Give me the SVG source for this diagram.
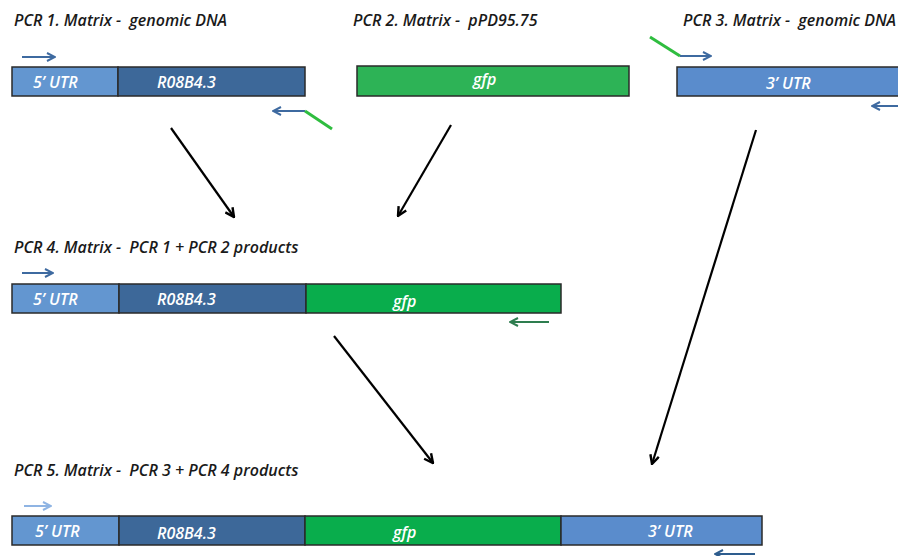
<svg xmlns="http://www.w3.org/2000/svg" width="898" height="556" viewBox="0 0 898 556">
<defs>
<style>
.title{font-family:"Open Sans","Liberation Sans",sans-serif;font-style:italic;font-weight:600;font-size:16px;fill:#1a1a1a;white-space:pre}
.lbl{font-family:"Open Sans","Liberation Sans",sans-serif;font-style:italic;font-weight:600;font-size:16px;fill:#ffffff}
.bar{stroke:#2a2a2a;stroke-width:1.5}
.utr5{fill:#6396d0}
.gene{fill:#3d6899}
.gfp1{fill:#2db356}
.gfp{fill:#09ad4c}
.utr3{fill:#5a8ccc}
.conn{stroke:#000;stroke-width:2.2;fill:none}
.pb{stroke:#3e6aa0;stroke-width:2;fill:none}
.pg{stroke:#2fbd3f;stroke-width:3;fill:none}
</style>
<marker id="ah" viewBox="0 0 10 10" refX="9" refY="5" markerWidth="5" markerHeight="5" orient="auto" markerUnits="strokeWidth">
<path d="M1,1 L9,5 L1,9" fill="none" stroke="#000" stroke-width="2.2"/>
</marker>
<marker id="pab" viewBox="0 0 10 10" refX="9" refY="5" markerWidth="5" markerHeight="5" orient="auto" markerUnits="strokeWidth">
<path d="M1,1 L9,5 L1,9" fill="none" stroke="#3e6aa0" stroke-width="2"/>
</marker>
<marker id="pad" viewBox="0 0 10 10" refX="9" refY="5" markerWidth="5" markerHeight="5" orient="auto" markerUnits="strokeWidth">
<path d="M1,1 L9,5 L1,9" fill="none" stroke="#2e5d8e" stroke-width="2"/>
</marker>
<marker id="pal" viewBox="0 0 10 10" refX="9" refY="5" markerWidth="5" markerHeight="5" orient="auto" markerUnits="strokeWidth">
<path d="M1,1 L9,5 L1,9" fill="none" stroke="#8fb4e3" stroke-width="2"/>
</marker>
<marker id="pag" viewBox="0 0 10 10" refX="9" refY="5" markerWidth="5" markerHeight="5" orient="auto" markerUnits="strokeWidth">
<path d="M1,1 L9,5 L1,9" fill="none" stroke="#2e7d4f" stroke-width="2"/>
</marker>
</defs>
<rect width="898" height="556" fill="#ffffff"/>

<g id="pcr1">
<text class="title" x="14" y="26" xml:space="preserve">PCR 1. Matrix -  genomic DNA</text>
<rect class="bar utr5" x="12" y="67" width="106" height="29"/>
<rect class="bar gene" x="118" y="67" width="187" height="29"/>
<text class="lbl" x="33" y="88">5’ UTR</text>
<text class="lbl" x="157" y="88">R08B4.3</text>
<line class="pb" x1="22" y1="57" x2="55" y2="57" marker-end="url(#pab)"/>
<line class="pb" x1="305" y1="111" x2="273" y2="111" marker-end="url(#pab)"/>
<line class="pg" x1="305" y1="111" x2="332" y2="129"/>
</g>

<g id="pcr2">
<text class="title" x="353" y="26" xml:space="preserve">PCR 2. Matrix -  pPD95.75</text>
<rect class="bar gfp1" x="357" y="66" width="272" height="30"/>
<text class="lbl" x="473" y="85">gfp</text>
</g>

<g id="pcr3">
<text class="title" x="683" y="26" xml:space="preserve">PCR 3. Matrix -  genomic DNA</text>
<rect class="bar utr3" x="677" y="67" width="225" height="29"/>
<text class="lbl" x="766" y="89">3’ UTR</text>
<line class="pg" x1="650" y1="37" x2="680" y2="56"/>
<line class="pb" x1="680" y1="56" x2="711" y2="56" marker-end="url(#pab)"/>
<line class="pb" x1="900" y1="106" x2="872" y2="106" marker-end="url(#pab)"/>
</g>

<g id="pcr4">
<text class="title" x="14" y="253" xml:space="preserve">PCR 4. Matrix -  PCR 1 + PCR 2 products</text>
<rect class="bar utr5" x="12" y="284" width="107" height="29"/>
<rect class="bar gene" x="119" y="284" width="187" height="29"/>
<rect class="bar gfp" x="306" y="284" width="255" height="29"/>
<text class="lbl" x="33" y="305">5’ UTR</text>
<text class="lbl" x="157" y="305">R08B4.3</text>
<text class="lbl" x="393" y="307">gfp</text>
<line class="pb" x1="22" y1="273" x2="53" y2="273" marker-end="url(#pab)"/>
<line x1="549" y1="322" x2="510" y2="322" stroke="#2e7d4f" stroke-width="2" marker-end="url(#pag)"/>
</g>

<g id="pcr5">
<text class="title" x="14" y="476" xml:space="preserve">PCR 5. Matrix -  PCR 3 + PCR 4 products</text>
<rect class="bar utr5" x="12" y="516" width="107" height="29"/>
<rect class="bar gene" x="119" y="516" width="186" height="29"/>
<rect class="bar gfp" x="305" y="516" width="256" height="29"/>
<rect class="bar utr3" x="561" y="516" width="201" height="29"/>
<text class="lbl" x="35" y="537">5’ UTR</text>
<text class="lbl" x="157" y="539">R08B4.3</text>
<text class="lbl" x="393" y="538">gfp</text>
<text class="lbl" x="648" y="537">3’ UTR</text>
<line x1="24" y1="506" x2="51" y2="506" stroke="#8fb4e3" stroke-width="2" marker-end="url(#pal)"/>
<line x1="755" y1="554" x2="715" y2="554" stroke="#2e5d8e" stroke-width="2" marker-end="url(#pad)"/>
</g>

<g id="connectors">
<line class="conn" x1="171" y1="128" x2="234" y2="217" marker-end="url(#ah)"/>
<line class="conn" x1="451" y1="125" x2="398" y2="216" marker-end="url(#ah)"/>
<line class="conn" x1="756" y1="130" x2="652" y2="464" marker-end="url(#ah)"/>
<line class="conn" x1="334" y1="336" x2="433" y2="463" marker-end="url(#ah)"/>
</g>
</svg>
